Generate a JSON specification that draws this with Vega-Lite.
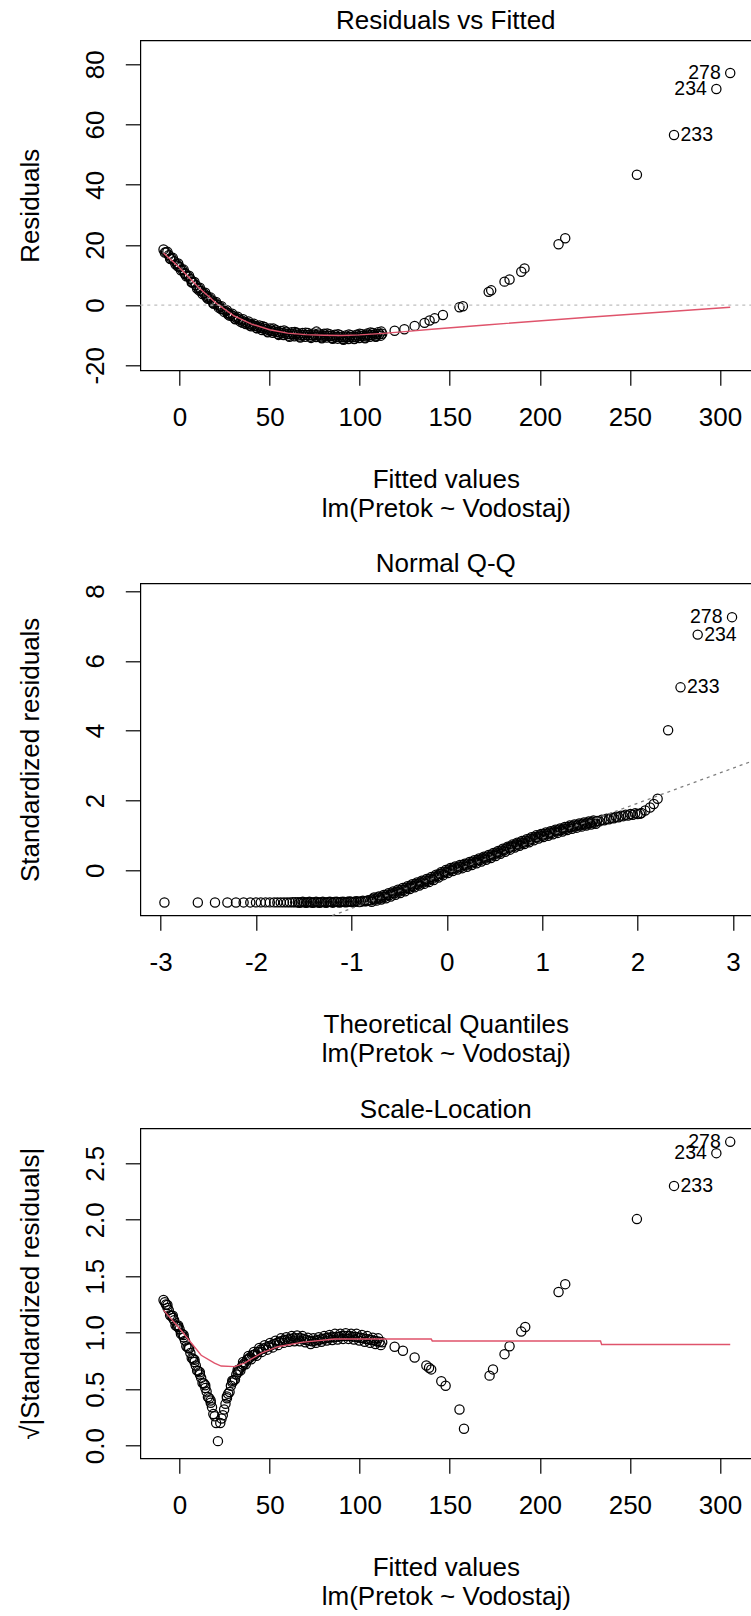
{
  "$schema": "https://vega.github.io/schema/vega-lite/v6.json",
  "background": "white",
  "padding": {"left": 16.3, "top": 6.3, "right": 0, "bottom": 6},
  "bounds": "flush",
  "spacing": 213,
  "config": {
    "font": "Liberation Sans",
    "view": {"stroke": "black", "strokeWidth": 1.2},
    "axis": {"grid": false, "domain": false, "ticks": true, "tickColor": "black", "tickWidth": 1.2, "tickSize": 15,
      "labelFont": "Liberation Sans", "labelFontSize": 26, "labelColor": "black", "labelFlush": false, "labelOverlap": false,
      "titleFont": "Liberation Sans", "titleFontSize": 26, "titleFontWeight": "normal", "titleColor": "black", "titleLineHeight": 28.6,
      "labelExpr": "replace(datum.label, '\u2212', '-')"},
    "title": {"font": "Liberation Sans", "fontSize": 26, "fontWeight": "normal", "color": "black", "baseline": "alphabetic", "frame": "group", "anchor": "middle"}
  },
  "datasets": {
    "rvf": [
      {"x":-8.9,"y":18.5},{"x":-7.5,"y":17.6},{"x":-6,"y":16.6},{"x":-4.5,"y":15.6},{"x":-3,"y":14.6},{"x":-1.5,"y":13.7},{"x":0,"y":12.7},{"x":1.5,"y":11.7},{"x":3,"y":10.7},{"x":4.5,"y":9.7},{"x":6,"y":8.7},{"x":7.5,"y":7.6},{"x":9,"y":6.6},{"x":10.5,"y":5.6},{"x":12,"y":4.7},{"x":13.5,"y":3.9},{"x":15,"y":3.1},{"x":16.5,"y":2.3},{"x":18,"y":1.5},{"x":19.5,"y":0.8},{"x":21,"y":0.1},{"x":22.5,"y":-0.6},{"x":24,"y":-1.3},{"x":25.5,"y":-2.0},{"x":27,"y":-2.6},{"x":28.5,"y":-3.2},{"x":30,"y":-3.7},{"x":31.5,"y":-4.2},{"x":33,"y":-4.7},{"x":34.5,"y":-5.1},{"x":36,"y":-5.5},{"x":37.5,"y":-5.9},{"x":39,"y":-6.2},{"x":40.5,"y":-6.6},{"x":42,"y":-6.9},{"x":43.5,"y":-7.2},{"x":45,"y":-7.5},{"x":46.5,"y":-7.8},{"x":48,"y":-8.0},{"x":49.5,"y":-8.3},{"x":51,"y":-8.5},{"x":52.5,"y":-8.7},{"x":54,"y":-8.9},{"x":55.5,"y":-9.1},{"x":57,"y":-9.3},{"x":58.5,"y":-9.4},{"x":60,"y":-9.5},{"x":61.5,"y":-9.6},{"x":63,"y":-9.7},{"x":64.5,"y":-9.8},{"x":66,"y":-9.8},{"x":67.5,"y":-9.9},{"x":69,"y":-9.9},{"x":70.5,"y":-9.9},{"x":72,"y":-9.9},{"x":73.5,"y":-10.0},{"x":75,"y":-10.0},{"x":76.5,"y":-10.0},{"x":78,"y":-10.1},{"x":79.5,"y":-10.1},{"x":81,"y":-10.2},{"x":82.5,"y":-10.2},{"x":84,"y":-10.3},{"x":85.5,"y":-10.4},{"x":87,"y":-10.5},{"x":88.5,"y":-10.6},{"x":90,"y":-10.7},{"x":91.5,"y":-10.7},{"x":93,"y":-10.7},{"x":94.5,"y":-10.6},{"x":96,"y":-10.6},{"x":97.5,"y":-10.5},{"x":99,"y":-10.4},{"x":100.5,"y":-10.3},{"x":102,"y":-10.2},{"x":103.5,"y":-10.1},{"x":105,"y":-10.0},{"x":106.5,"y":-9.9},{"x":108,"y":-9.8},{"x":109.5,"y":-9.7},{"x":111,"y":-9.6},{"x":112.5,"y":-9.5},
      {"x":-8.2,"y":17.45},{"x":-6.75,"y":17.7},{"x":-5.25,"y":15.5},{"x":-3.75,"y":15.7},{"x":-2.25,"y":13.55},{"x":-0.75,"y":13.8},{"x":0.75,"y":11.6},{"x":2.25,"y":11.8},{"x":3.75,"y":9.6},{"x":5.25,"y":9.8},{"x":6.75,"y":7.55},{"x":8.25,"y":7.7},{"x":9.75,"y":5.5},{"x":11.25,"y":5.75},{"x":12.75,"y":3.7},{"x":14.25,"y":4.1},{"x":15.75,"y":2.1},{"x":17.25,"y":2.5},{"x":18.75,"y":0.55},{"x":20.25,"y":1.05},{"x":21.75,"y":-0.85},{"x":23.25,"y":-0.35},{"x":24.75,"y":-2.25},{"x":26.25,"y":-1.7},{"x":27.75,"y":-3.5},{"x":29.25,"y":-2.85},{"x":30.75,"y":-4.55},{"x":32.25,"y":-3.85},{"x":33.75,"y":-5.5},{"x":35.25,"y":-4.7},{"x":36.75,"y":-6.3},{"x":38.25,"y":-5.45},{"x":39.75,"y":-7.0},{"x":41.25,"y":-6.15},{"x":42.75,"y":-7.65},{"x":44.25,"y":-6.75},{"x":45.75,"y":-8.25},{"x":47.25,"y":-7.3},{"x":48.75,"y":-8.75},{"x":50.25,"y":-7.8},{"x":51.75,"y":-9.2},{"x":53.25,"y":-8.2},{"x":54.75,"y":-9.6},{"x":56.25,"y":-8.6},{"x":57.75,"y":-9.95},{"x":59.25,"y":-8.85},{"x":60.75,"y":-10.15},{"x":62.25,"y":-9.05},{"x":63.75,"y":-10.35},{"x":65.25,"y":-9.2},{"x":66.75,"y":-10.45},{"x":68.25,"y":-9.3},{"x":69.75,"y":-10.5},{"x":71.25,"y":-9.3},{"x":72.75,"y":-10.55},{"x":74.25,"y":-9.4},{"x":75.75,"y":-10.6},{"x":77.25,"y":-9.45},{"x":78.75,"y":-10.7},{"x":80.25,"y":-9.55},{"x":81.75,"y":-10.8},{"x":83.25,"y":-9.65},{"x":84.75,"y":-10.95},{"x":86.25,"y":-9.85},{"x":87.75,"y":-11.15},{"x":89.25,"y":-10.05},{"x":90.75,"y":-11.3},{"x":92.25,"y":-10.1},{"x":93.75,"y":-11.25},{"x":95.25,"y":-10.0},{"x":96.75,"y":-11.15},{"x":98.25,"y":-9.85},{"x":99.75,"y":-10.95},{"x":101.25,"y":-9.65},{"x":102.75,"y":-10.75},{"x":104.25,"y":-9.45},{"x":105.75,"y":-10.55},{"x":107.25,"y":-9.25},{"x":108.75,"y":-10.35},{"x":110.25,"y":-9.05},{"x":111.75,"y":-10.15},
      {"x":46,"y":-7.0},{"x":52,"y":-7.8},{"x":58,"y":-8.4},{"x":64,"y":-8.9},{"x":70,"y":-9.2},{"x":76,"y":-8.8},{"x":82,"y":-9.4},{"x":88,"y":-9.7},{"x":94,"y":-9.8},{"x":100,"y":-9.5},{"x":106,"y":-9.1},{"x":112,"y":-8.8},
      {"x":49,"y":-9.0},{"x":55,"y":-9.9},{"x":61,"y":-10.5},{"x":67,"y":-10.8},{"x":73,"y":-10.9},{"x":79,"y":-11.0},{"x":85,"y":-11.2},{"x":91,"y":-11.5},{"x":97,"y":-11.3},{"x":103,"y":-11.0},{"x":109,"y":-10.5},
      {"x":-5,"y":15.3},{"x":-1,"y":12.9},{"x":3,"y":10.3},{"x":7,"y":7.5},{"x":11,"y":4.8},{"x":15,"y":2.6},{"x":19,"y":0.5},{"x":23,"y":-1.3},{"x":27,"y":-3.1},{"x":31,"y":-4.7},{"x":35,"y":-5.9},{"x":39,"y":-6.8},{"x":43,"y":-7.7},
      {"x":119.4,"y":-8.5},{"x":124.8,"y":-8.0},{"x":130.5,"y":-6.9},{"x":136,"y":-5.9},{"x":138.8,"y":-5.1},{"x":141.6,"y":-4.4},{"x":146.2,"y":-3.3},{"x":155.4,"y":-0.7},{"x":157.3,"y":-0.4},{"x":171.6,"y":4.4},{"x":173,"y":4.9},{"x":180.4,"y":7.8},{"x":183.2,"y":8.5},{"x":189.7,"y":11.1},{"x":191.5,"y":12.2},{"x":210.4,"y":20.2},{"x":214.1,"y":22.2},{"x":253.9,"y":43.3},{"x":274.5,"y":56.5},{"x":298,"y":71.8},{"x":305.7,"y":77.1}
    ],
    "rvf_smooth": [
      {"x":-8.9,"y":17.3},{"x":0,"y":12.4},{"x":10,"y":6.2},{"x":20,"y":0.8},{"x":30,"y":-3.5},{"x":40,"y":-6.3},{"x":50,"y":-8.2},{"x":60,"y":-9.3},{"x":70,"y":-9.8},{"x":80,"y":-10.0},{"x":90,"y":-10.1},{"x":100,"y":-9.9},{"x":113,"y":-9.4},{"x":125,"y":-8.8},{"x":140,"y":-8.0},{"x":170,"y":-6.6},{"x":225,"y":-4.1},{"x":305.7,"y":-0.7}
    ],
    "rvf_zero": [{"x":-21.8,"y":0},{"x":317.4,"y":0}],
    "rvf_lab": [
      {"x":305.7,"y":77.1,"id":"278","side":"L"},{"x":298,"y":71.8,"id":"234","side":"L"},{"x":274.5,"y":56.5,"id":"233","side":"R"}
    ],
    "qq": [
      {"x":-2.96,"y":-0.925},{"x":-2.61,"y":-0.925},{"x":-2.43,"y":-0.923},{"x":-2.30,"y":-0.922},{"x":-2.21,"y":-0.922},{"x":-2.13,"y":-0.921},{"x":-2.06,"y":-0.921},{"x":-2.00,"y":-0.92},{"x":-1.95,"y":-0.92},{"x":-1.90,"y":-0.92},{"x":-1.855,"y":-0.92},{"x":-1.81,"y":-0.92},{"x":-1.776,"y":-0.92},{"x":-1.741,"y":-0.92},{"x":-1.707,"y":-0.92},{"x":-1.675,"y":-0.92},{"x":-1.645,"y":-0.92},{"x":-1.616,"y":-0.919},{"x":-1.589,"y":-0.919},{"x":-1.562,"y":-0.919},
      {"x":-1.53,"y":-0.918},{"x":-1.495,"y":-0.918},{"x":-1.46,"y":-0.917},{"x":-1.425,"y":-0.917},{"x":-1.39,"y":-0.916},{"x":-1.355,"y":-0.916},{"x":-1.32,"y":-0.915},{"x":-1.285,"y":-0.914},{"x":-1.25,"y":-0.913},{"x":-1.215,"y":-0.912},{"x":-1.18,"y":-0.911},{"x":-1.145,"y":-0.91},{"x":-1.11,"y":-0.909},{"x":-1.075,"y":-0.907},{"x":-1.04,"y":-0.905},{"x":-1.005,"y":-0.903},{"x":-0.97,"y":-0.9},{"x":-0.935,"y":-0.897},{"x":-0.9,"y":-0.893},{"x":-0.865,"y":-0.888},
      {"x":-1.545,"y":-0.93},{"x":-1.51,"y":-0.905},{"x":-1.475,"y":-0.93},{"x":-1.44,"y":-0.905},{"x":-1.405,"y":-0.93},{"x":-1.37,"y":-0.905},{"x":-1.335,"y":-0.93},{"x":-1.30,"y":-0.905},{"x":-1.265,"y":-0.93},{"x":-1.23,"y":-0.905},{"x":-1.195,"y":-0.928},{"x":-1.16,"y":-0.9},{"x":-1.125,"y":-0.925},{"x":-1.09,"y":-0.898},{"x":-1.055,"y":-0.92},{"x":-1.02,"y":-0.893},{"x":-0.985,"y":-0.915},{"x":-0.95,"y":-0.885},{"x":-0.915,"y":-0.91},{"x":-0.88,"y":-0.875},{"x":-0.845,"y":-0.885},{"x":-0.825,"y":-0.86},
      {"x":-0.80,"y":-0.86},{"x":-0.775,"y":-0.815},{"x":-0.75,"y":-0.83},{"x":-0.725,"y":-0.78},{"x":-0.70,"y":-0.80},{"x":-0.675,"y":-0.75},{"x":-0.65,"y":-0.76},{"x":-0.625,"y":-0.70},{"x":-0.60,"y":-0.71},{"x":-0.575,"y":-0.655},{"x":-0.55,"y":-0.66},{"x":-0.525,"y":-0.605},{"x":-0.50,"y":-0.61},{"x":-0.475,"y":-0.555},{"x":-0.45,"y":-0.56},{"x":-0.425,"y":-0.50},{"x":-0.40,"y":-0.50},{"x":-0.375,"y":-0.445},{"x":-0.35,"y":-0.45},{"x":-0.325,"y":-0.395},{"x":-0.30,"y":-0.40},{"x":-0.275,"y":-0.345},{"x":-0.25,"y":-0.35},{"x":-0.225,"y":-0.295},{"x":-0.20,"y":-0.30},{"x":-0.175,"y":-0.24},{"x":-0.15,"y":-0.24},{"x":-0.125,"y":-0.175},{"x":-0.10,"y":-0.17},{"x":-0.075,"y":-0.105},{"x":-0.05,"y":-0.10},{"x":-0.025,"y":-0.04},
      {"x":0.0,"y":-0.04},{"x":0.025,"y":0.02},{"x":0.05,"y":0.02},{"x":0.075,"y":0.07},{"x":0.10,"y":0.06},{"x":0.125,"y":0.11},{"x":0.15,"y":0.10},{"x":0.175,"y":0.15},{"x":0.20,"y":0.14},{"x":0.225,"y":0.195},{"x":0.25,"y":0.19},{"x":0.275,"y":0.245},{"x":0.30,"y":0.24},{"x":0.325,"y":0.295},{"x":0.35,"y":0.29},{"x":0.375,"y":0.345},{"x":0.40,"y":0.34},{"x":0.425,"y":0.395},{"x":0.45,"y":0.39},{"x":0.475,"y":0.45},{"x":0.50,"y":0.45},{"x":0.525,"y":0.51},{"x":0.55,"y":0.51},{"x":0.575,"y":0.57},{"x":0.60,"y":0.57},{"x":0.625,"y":0.63},{"x":0.65,"y":0.63},{"x":0.675,"y":0.69},{"x":0.70,"y":0.69},{"x":0.725,"y":0.745},{"x":0.75,"y":0.74},{"x":0.775,"y":0.795},{"x":0.80,"y":0.79},{"x":0.825,"y":0.845},{"x":0.85,"y":0.84},{"x":0.875,"y":0.90},{"x":0.90,"y":0.90},{"x":0.925,"y":0.955},{"x":0.95,"y":0.95},{"x":0.975,"y":1.0},
      {"x":1.00,"y":0.99},{"x":1.025,"y":1.04},{"x":1.05,"y":1.03},{"x":1.075,"y":1.08},{"x":1.10,"y":1.07},{"x":1.125,"y":1.12},{"x":1.15,"y":1.11},{"x":1.175,"y":1.16},{"x":1.20,"y":1.15},{"x":1.225,"y":1.2},{"x":1.25,"y":1.19},{"x":1.275,"y":1.24},{"x":1.30,"y":1.23},{"x":1.325,"y":1.275},{"x":1.35,"y":1.26},{"x":1.375,"y":1.305},{"x":1.40,"y":1.29},{"x":1.425,"y":1.335},{"x":1.45,"y":1.32},{"x":1.475,"y":1.365},{"x":1.50,"y":1.35},{"x":1.525,"y":1.39},{"x":1.55,"y":1.37},{"x":1.575,"y":1.415},{"x":1.60,"y":1.40},{"x":1.625,"y":1.445},{"x":1.65,"y":1.43},{"x":1.675,"y":1.475},{"x":1.70,"y":1.46},{"x":1.725,"y":1.505},{"x":1.75,"y":1.49},{"x":1.775,"y":1.535},{"x":1.80,"y":1.52},{"x":1.825,"y":1.565},{"x":1.85,"y":1.55},{"x":1.875,"y":1.59},{"x":1.90,"y":1.57},{"x":1.925,"y":1.61},{"x":1.95,"y":1.59},{"x":1.975,"y":1.63},{"x":2.00,"y":1.61},{"x":2.025,"y":1.62},
      {"x":-0.7875,"y":-0.90},{"x":-0.7375,"y":-0.87},{"x":-0.6875,"y":-0.84},{"x":-0.6375,"y":-0.80},{"x":-0.5875,"y":-0.75},{"x":-0.5375,"y":-0.70},{"x":-0.4875,"y":-0.65},{"x":-0.4375,"y":-0.60},{"x":-0.3875,"y":-0.54},{"x":-0.3375,"y":-0.49},{"x":-0.2875,"y":-0.44},{"x":-0.2375,"y":-0.39},{"x":-0.1875,"y":-0.34},{"x":-0.1375,"y":-0.28},{"x":-0.0875,"y":-0.21},{"x":-0.0375,"y":-0.14},{"x":0.0125,"y":-0.08},{"x":0.0625,"y":-0.02},{"x":0.1125,"y":0.02},{"x":0.1625,"y":0.06},{"x":0.2125,"y":0.10},{"x":0.2625,"y":0.15},{"x":0.3125,"y":0.20},{"x":0.3625,"y":0.25},{"x":0.4125,"y":0.30},{"x":0.4625,"y":0.35},{"x":0.5125,"y":0.41},{"x":0.5625,"y":0.47},{"x":0.6125,"y":0.53},{"x":0.6625,"y":0.59},{"x":0.7125,"y":0.65},{"x":0.7625,"y":0.70},{"x":0.8125,"y":0.75},{"x":0.8625,"y":0.80},{"x":0.9125,"y":0.86},{"x":0.9625,"y":0.91},{"x":1.0125,"y":0.95},{"x":1.0625,"y":0.99},{"x":1.1125,"y":1.03},{"x":1.1625,"y":1.07},{"x":1.2125,"y":1.11},{"x":1.2625,"y":1.15},{"x":1.3125,"y":1.19},{"x":1.3625,"y":1.22},{"x":1.4125,"y":1.25},{"x":1.4625,"y":1.28},{"x":1.5125,"y":1.31},{"x":1.5625,"y":1.33},
      {"x":-0.7625,"y":-0.78},{"x":-0.7125,"y":-0.75},{"x":-0.6625,"y":-0.71},{"x":-0.6125,"y":-0.66},{"x":-0.5625,"y":-0.61},{"x":-0.5125,"y":-0.56},{"x":-0.4625,"y":-0.51},{"x":-0.4125,"y":-0.455},{"x":-0.3625,"y":-0.40},{"x":-0.3125,"y":-0.35},{"x":-0.2625,"y":-0.30},{"x":-0.2125,"y":-0.25},{"x":-0.1625,"y":-0.195},{"x":-0.1125,"y":-0.13},{"x":-0.0625,"y":-0.06},{"x":-0.0125,"y":0.005},{"x":0.0375,"y":0.065},{"x":0.0875,"y":0.11},{"x":0.1375,"y":0.15},{"x":0.1875,"y":0.19},{"x":0.2375,"y":0.24},{"x":0.2875,"y":0.29},{"x":0.3375,"y":0.34},{"x":0.3875,"y":0.39},{"x":0.4375,"y":0.44},{"x":0.4875,"y":0.495},{"x":0.5375,"y":0.555},{"x":0.5875,"y":0.615},{"x":0.6375,"y":0.675},{"x":0.6875,"y":0.735},{"x":0.7375,"y":0.79},{"x":0.7875,"y":0.84},{"x":0.8375,"y":0.89},{"x":0.8875,"y":0.945},{"x":0.9375,"y":1.0},{"x":0.9875,"y":1.04},{"x":1.0375,"y":1.08},{"x":1.0875,"y":1.12},{"x":1.1375,"y":1.16},{"x":1.1875,"y":1.20},{"x":1.2375,"y":1.24},{"x":1.2875,"y":1.28},{"x":1.3375,"y":1.31},{"x":1.3875,"y":1.34},{"x":1.4375,"y":1.37},{"x":1.4875,"y":1.40},{"x":1.5375,"y":1.425},
      {"x":2.04,"y":1.64},{"x":2.08,"y":1.71},{"x":2.13,"y":1.80},{"x":2.17,"y":1.90},{"x":2.21,"y":2.05},{"x":2.32,"y":4.01},{"x":2.45,"y":5.24},{"x":2.63,"y":6.75},{"x":2.99,"y":7.25}
    ],
    "qq_line": [{"x":-1.2,"y":-1.296},{"x":3.192,"y":3.118}],
    "qq_lab": [
      {"x":2.99,"y":7.25,"id":"278","side":"L"},{"x":2.63,"y":6.75,"id":"234","side":"R"},{"x":2.45,"y":5.24,"id":"233","side":"R"}
    ],
    "sl": [
      {"x":-8.9,"y":1.29},{"x":-7.5,"y":1.25},{"x":-6,"y":1.20},{"x":-4.5,"y":1.15},{"x":-3,"y":1.11},{"x":-1.5,"y":1.06},{"x":0,"y":1.03},{"x":1.5,"y":0.99},{"x":3,"y":0.93},{"x":4.5,"y":0.87},{"x":6,"y":0.82},{"x":7.5,"y":0.77},{"x":9,"y":0.71},{"x":10.5,"y":0.66},{"x":12,"y":0.60},{"x":13.5,"y":0.55},{"x":15,"y":0.48},{"x":16.5,"y":0.42},{"x":18,"y":0.34},{"x":19.5,"y":0.26},{"x":20.3,"y":0.2},{"x":21.3,"y":0.04},{"x":22.6,"y":0.2},{"x":24,"y":0.27},{"x":25.5,"y":0.37},{"x":27,"y":0.46},{"x":28.5,"y":0.53},{"x":30,"y":0.58},{"x":31.5,"y":0.63},{"x":33,"y":0.67},{"x":34.5,"y":0.70},{"x":36,"y":0.73},{"x":37.5,"y":0.76},{"x":39,"y":0.78},{"x":40.5,"y":0.80},{"x":42,"y":0.81},{"x":43.5,"y":0.83},{"x":45,"y":0.85},{"x":46.5,"y":0.86},{"x":48,"y":0.87},{"x":49.5,"y":0.88},{"x":51,"y":0.89},{"x":52.5,"y":0.90},{"x":54,"y":0.91},{"x":55.5,"y":0.92},{"x":57,"y":0.93},{"x":58.5,"y":0.935},{"x":60,"y":0.94},{"x":61.5,"y":0.945},{"x":63,"y":0.95},{"x":64.5,"y":0.95},{"x":66,"y":0.95},{"x":67.5,"y":0.95},{"x":69,"y":0.945},{"x":70.5,"y":0.935},{"x":72,"y":0.93},{"x":73.5,"y":0.925},{"x":75,"y":0.93},{"x":76.5,"y":0.935},{"x":78,"y":0.94},{"x":79.5,"y":0.945},{"x":81,"y":0.95},{"x":82.5,"y":0.955},{"x":84,"y":0.96},{"x":85.5,"y":0.96},{"x":87,"y":0.965},{"x":88.5,"y":0.965},{"x":90,"y":0.97},{"x":91.5,"y":0.97},{"x":93,"y":0.97},{"x":94.5,"y":0.97},{"x":96,"y":0.965},{"x":97.5,"y":0.965},{"x":99,"y":0.96},{"x":100.5,"y":0.955},{"x":102,"y":0.95},{"x":103.5,"y":0.945},{"x":105,"y":0.94},{"x":106.5,"y":0.935},{"x":108,"y":0.93},{"x":109.5,"y":0.925},{"x":111,"y":0.92},{"x":112.5,"y":0.915},
      {"x":-8.2,"y":1.27},{"x":-6.75,"y":1.245},{"x":-5.25,"y":1.155},{"x":-3.75,"y":1.15},{"x":-2.25,"y":1.065},{"x":-0.75,"y":1.065},{"x":0.75,"y":0.99},{"x":2.25,"y":0.98},{"x":3.75,"y":0.88},{"x":5.25,"y":0.865},{"x":6.75,"y":0.775},{"x":8.25,"y":0.76},{"x":9.75,"y":0.665},{"x":11.25,"y":0.65},{"x":12.75,"y":0.555},{"x":14.25,"y":0.535},{"x":15.75,"y":0.43},{"x":17.25,"y":0.40},{"x":18.75,"y":0.28},
      {"x":24.75,"y":0.32},{"x":26.25,"y":0.435},{"x":27.75,"y":0.475},{"x":29.25,"y":0.575},{"x":30.75,"y":0.585},{"x":32.25,"y":0.67},{"x":33.75,"y":0.665},{"x":35.25,"y":0.74},{"x":36.75,"y":0.72},{"x":38.25,"y":0.795},{"x":39.75,"y":0.765},{"x":41.25,"y":0.83},{"x":42.75,"y":0.795},{"x":44.25,"y":0.865},{"x":45.75,"y":0.83},{"x":47.25,"y":0.89},{"x":48.75,"y":0.85},{"x":50.25,"y":0.91},{"x":51.75,"y":0.87},{"x":53.25,"y":0.93},{"x":54.75,"y":0.89},{"x":56.25,"y":0.95},{"x":57.75,"y":0.91},{"x":59.25,"y":0.96},{"x":60.75,"y":0.92},{"x":62.25,"y":0.97},{"x":63.75,"y":0.925},{"x":65.25,"y":0.975},{"x":66.75,"y":0.925},{"x":68.25,"y":0.97},{"x":69.75,"y":0.915},{"x":71.25,"y":0.955},{"x":72.75,"y":0.9},{"x":74.25,"y":0.95},{"x":75.75,"y":0.91},{"x":77.25,"y":0.96},{"x":78.75,"y":0.92},{"x":80.25,"y":0.97},{"x":81.75,"y":0.93},{"x":83.25,"y":0.98},{"x":84.75,"y":0.935},{"x":86.25,"y":0.99},{"x":87.75,"y":0.94},{"x":89.25,"y":0.99},{"x":90.75,"y":0.945},{"x":92.25,"y":0.995},{"x":93.75,"y":0.945},{"x":95.25,"y":0.99},{"x":96.75,"y":0.94},{"x":98.25,"y":0.99},{"x":99.75,"y":0.93},{"x":101.25,"y":0.98},{"x":102.75,"y":0.92},{"x":104.25,"y":0.97},{"x":105.75,"y":0.91},{"x":107.25,"y":0.955},{"x":108.75,"y":0.9},{"x":110.25,"y":0.95},{"x":111.75,"y":0.89},
      {"x":-6.7,"y":1.22},{"x":-3.7,"y":1.13},{"x":-0.7,"y":1.05},{"x":2.3,"y":0.96},{"x":5.3,"y":0.86},{"x":8.3,"y":0.74},{"x":11.3,"y":0.63},{"x":14.3,"y":0.51},{"x":17.3,"y":0.38},{"x":23.3,"y":0.24},{"x":26.3,"y":0.42},{"x":29.3,"y":0.56},{"x":32.3,"y":0.65},{"x":35.3,"y":0.715},{"x":38.3,"y":0.77},{"x":41.3,"y":0.805},
      {"x":119.4,"y":0.876},{"x":124,"y":0.84},{"x":130.5,"y":0.78},{"x":137,"y":0.71},{"x":138.5,"y":0.69},{"x":139.7,"y":0.675},{"x":145.3,"y":0.57},{"x":147.7,"y":0.53},{"x":155.4,"y":0.32},{"x":157.9,"y":0.15},{"x":172.1,"y":0.62},{"x":174,"y":0.675},{"x":180.4,"y":0.81},{"x":183.2,"y":0.88},{"x":189.7,"y":1.01},{"x":191.9,"y":1.05},{"x":210.4,"y":1.36},{"x":214.1,"y":1.43},{"x":253.9,"y":2.006},{"x":274.5,"y":2.30},{"x":298,"y":2.59},{"x":305.7,"y":2.69}
    ],
    "sl_smooth": [
      {"x":-8.9,"y":1.20},{"x":0.9,"y":1.02},{"x":12,"y":0.80},{"x":19.4,"y":0.73},{"x":23.1,"y":0.705},{"x":30.5,"y":0.70},{"x":36,"y":0.73},{"x":45.4,"y":0.82},{"x":54.6,"y":0.876},{"x":67.6,"y":0.914},{"x":86,"y":0.944},{"x":112.4,"y":0.944},{"x":139.7,"y":0.944},{"x":140.3,"y":0.927},{"x":233.7,"y":0.927},{"x":234.3,"y":0.896},{"x":305.7,"y":0.896}
    ],
    "sl_lab": [
      {"x":305.7,"y":2.69,"id":"278","side":"L"},{"x":298,"y":2.59,"id":"234","side":"L"},{"x":274.5,"y":2.30,"id":"233","side":"R"}
    ]
  },
  "vconcat": [
    {
      "width": 611, "height": 330,
      "title": {"text": "Residuals vs Fitted", "offset": 6.8},
      "encoding": {
        "x": {"field": "x", "type": "quantitative", "scale": {"domain": [-21.8, 317.4], "nice": false, "zero": false},
              "axis": {"values": [0, 50, 100, 150, 200, 250, 300], "title": ["Fitted values", "lm(Pretok ~ Vodostaj)"],
                       "labelBaseline": "alphabetic", "labelAlign": "center", "labelPadding": 40, "titleBaseline": "alphabetic", "titleAlign": "center", "titleY": 117.5}},
        "y": {"field": "y", "type": "quantitative", "scale": {"domain": [-21.66, 87.98], "nice": false, "zero": false},
              "axis": {"values": [-20, 0, 20, 40, 60, 80], "title": "Residuals",
                       "labelAngle": -90, "labelAlign": "center", "labelBaseline": "alphabetic", "labelPadding": 22, "titleAngle": -90, "titleBaseline": "alphabetic", "titleAlign": "center", "titleX": -101.7, "titleY": 165}}
      },
      "layer": [
        {"data": {"name": "rvf"}, "mark": {"type": "point", "shape": "circle", "filled": false, "color": "black", "strokeWidth": 1.25, "size": 85, "opacity": 1}},
        {"data": {"name": "rvf_smooth"}, "mark": {"type": "line", "color": "#DF536B", "strokeWidth": 1.4}, "encoding": {}},
        {"data": {"name": "rvf_zero"}, "mark": {"type": "line", "color": "#BEBEBE", "strokeWidth": 1.3, "strokeDash": [3, 4]}, "encoding": {}},
        {"data": {"name": "rvf_lab"}, "transform": [{"filter": "datum.side == 'L'"}],
         "mark": {"type": "text", "align": "right", "baseline": "middle", "dx": -9.5, "fontSize": 19.5, "font": "Liberation Sans", "color": "black"},
         "encoding": {"text": {"field": "id", "type": "nominal"}}},
        {"data": {"name": "rvf_lab"}, "transform": [{"filter": "datum.side == 'R'"}],
         "mark": {"type": "text", "align": "left", "baseline": "middle", "dx": 6.5, "fontSize": 19.5, "font": "Liberation Sans", "color": "black"},
         "encoding": {"text": {"field": "id", "type": "nominal"}}}
      ]
    },
    {
      "width": 611, "height": 332,
      "title": {"text": "Normal Q-Q", "offset": 6.4},
      "encoding": {
        "x": {"field": "x", "type": "quantitative", "scale": {"domain": [-3.213, 3.192], "nice": false, "zero": false},
              "axis": {"values": [-3, -2, -1, 0, 1, 2, 3], "title": ["Theoretical Quantiles", "lm(Pretok ~ Vodostaj)"],
                       "labelBaseline": "alphabetic", "labelAlign": "center", "labelPadding": 40, "titleBaseline": "alphabetic", "titleAlign": "center", "titleY": 117.5}},
        "y": {"field": "y", "type": "quantitative", "scale": {"domain": [-1.29, 8.22], "nice": false, "zero": false},
              "axis": {"values": [0, 2, 4, 6, 8], "title": "Standardized residuals",
                       "labelAngle": -90, "labelAlign": "center", "labelBaseline": "alphabetic", "labelPadding": 22, "titleAngle": -90, "titleBaseline": "alphabetic", "titleAlign": "center", "titleX": -101.7, "titleY": 166}}
      },
      "layer": [
        {"data": {"name": "qq"}, "mark": {"type": "point", "shape": "circle", "filled": false, "color": "black", "strokeWidth": 1.25, "size": 85, "opacity": 1}},
        {"data": {"name": "qq_line"}, "mark": {"type": "line", "color": "#7F7F7F", "strokeWidth": 1.3, "strokeDash": [3, 4]}, "encoding": {}},
        {"data": {"name": "qq_lab"}, "transform": [{"filter": "datum.side == 'L'"}],
         "mark": {"type": "text", "align": "right", "baseline": "middle", "dx": -9.5, "fontSize": 19.5, "font": "Liberation Sans", "color": "black"},
         "encoding": {"text": {"field": "id", "type": "nominal"}}},
        {"data": {"name": "qq_lab"}, "transform": [{"filter": "datum.side == 'R'"}],
         "mark": {"type": "text", "align": "left", "baseline": "middle", "dx": 6.5, "fontSize": 19.5, "font": "Liberation Sans", "color": "black"},
         "encoding": {"text": {"field": "id", "type": "nominal"}}}
      ]
    },
    {
      "width": 611, "height": 330,
      "title": {"text": "Scale-Location", "offset": 5.5},
      "encoding": {
        "x": {"field": "x", "type": "quantitative", "scale": {"domain": [-21.8, 317.4], "nice": false, "zero": false},
              "axis": {"values": [0, 50, 100, 150, 200, 250, 300], "title": ["Fitted values", "lm(Pretok ~ Vodostaj)"],
                       "labelBaseline": "alphabetic", "labelAlign": "center", "labelPadding": 40, "titleBaseline": "alphabetic", "titleAlign": "center", "titleY": 117.5}},
        "y": {"field": "y", "type": "quantitative", "scale": {"domain": [-0.112, 2.81], "nice": false, "zero": false},
              "axis": {"values": [0, 0.5, 1, 1.5, 2, 2.5], "format": ".1f", "title": "√|Standardized residuals|",
                       "labelAngle": -90, "labelAlign": "center", "labelBaseline": "alphabetic", "labelPadding": 22, "titleAngle": -90, "titleBaseline": "alphabetic", "titleAlign": "center", "titleX": -101.7, "titleY": 165}}
      },
      "layer": [
        {"data": {"name": "sl"}, "mark": {"type": "point", "shape": "circle", "filled": false, "color": "black", "strokeWidth": 1.25, "size": 85, "opacity": 1}},
        {"data": {"name": "sl_smooth"}, "mark": {"type": "line", "color": "#DF536B", "strokeWidth": 1.4}, "encoding": {}},
        {"data": {"name": "sl_lab"}, "transform": [{"filter": "datum.side == 'L'"}],
         "mark": {"type": "text", "align": "right", "baseline": "middle", "dx": -9.5, "fontSize": 19.5, "font": "Liberation Sans", "color": "black"},
         "encoding": {"text": {"field": "id", "type": "nominal"}}},
        {"data": {"name": "sl_lab"}, "transform": [{"filter": "datum.side == 'R'"}],
         "mark": {"type": "text", "align": "left", "baseline": "middle", "dx": 6.5, "fontSize": 19.5, "font": "Liberation Sans", "color": "black"},
         "encoding": {"text": {"field": "id", "type": "nominal"}}}
      ]
    }
  ]
}
